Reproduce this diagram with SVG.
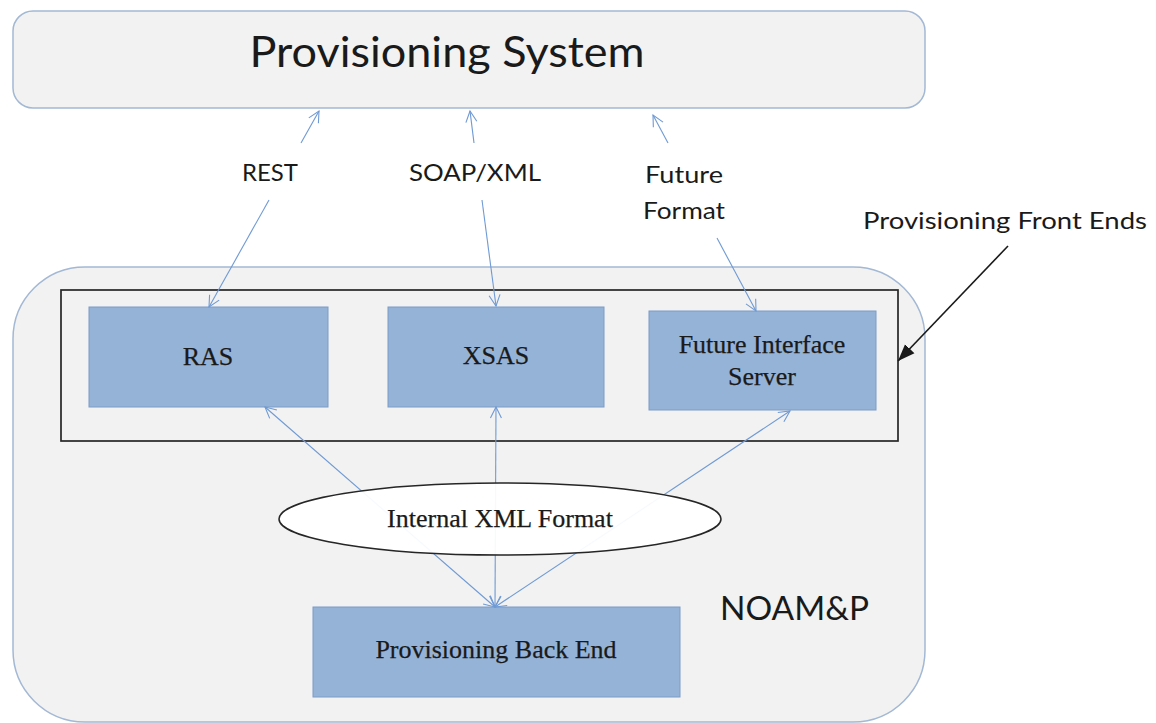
<svg xmlns="http://www.w3.org/2000/svg" width="1156" height="723" viewBox="0 0 1156 723">
  <style>
    .panel { fill: #f2f2f2; stroke: #a3b8d4; stroke-width: 1.5; }
    .frame { fill: none; stroke: #262626; stroke-width: 1.7; }
    .box { fill: #95b3d7; stroke: #7b9cc8; stroke-width: 1; }
    .link { fill: none; stroke: #6f9ad4; stroke-width: 1.1; }
    .pointer { fill: none; stroke: #1a1a1a; stroke-width: 1.6; }
    .sans { font-family: Lato, "Open Sans", "Liberation Sans", sans-serif; fill: #1a1a1a; }
    .serif { font-family: "Liberation Serif", "Times New Roman", serif; font-size: 26px; fill: #1a1a1a; stroke: #1a1a1a; stroke-width: 0.25; text-anchor: middle; }
    .lbl { font-size: 24px; text-anchor: middle; }
  </style>
  <defs>
    <marker id="open" markerUnits="userSpaceOnUse" markerWidth="14" markerHeight="14" viewBox="0 0 14 14" refX="12" refY="7" orient="auto-start-reverse">
      <path d="M1,1.5 L12,7 L1,12.5" fill="none" stroke="#6f9ad4" stroke-width="1.1"/>
    </marker>
    <marker id="solid" markerUnits="userSpaceOnUse" markerWidth="18" markerHeight="16" viewBox="0 0 18 16" refX="17" refY="8" orient="auto">
      <path d="M0,1.5 L17,8 L0,14.5 Z" fill="#1a1a1a"/>
    </marker>
  </defs>

  <!-- upstream provisioning system -->
  <g id="provisioning-system">
    <rect class="panel" x="13" y="11" width="912" height="97" rx="20"/>
    <text class="sans" x="447" y="67" font-size="42" text-anchor="middle" textLength="395" lengthAdjust="spacingAndGlyphs">Provisioning System</text>
  </g>

  <!-- NOAM&P container -->
  <g id="noamp">
    <rect class="panel" x="13" y="267" width="912" height="455" rx="72"/>
    <text class="sans" x="720" y="620" font-size="32" textLength="149" lengthAdjust="spacingAndGlyphs">NOAM&amp;P</text>
  </g>

  <!-- front end grouping frame -->
  <g id="front-ends">
    <rect class="frame" x="61" y="290" width="837" height="151"/>
  </g>

  <g id="ras">
    <rect class="box" x="89" y="307" width="239" height="100"/>
    <text class="serif" x="208" y="365">RAS</text>
  </g>

  <g id="xsas">
    <rect class="box" x="388" y="307" width="216" height="100"/>
    <text class="serif" x="496" y="364">XSAS</text>
  </g>

  <g id="future-interface-server">
    <rect class="box" x="649" y="311" width="227" height="99"/>
    <text class="serif" x="762" y="353">Future Interface</text>
    <text class="serif" x="762" y="385">Server</text>
  </g>

  <g id="back-end">
    <rect class="box" x="313" y="607" width="367" height="90"/>
    <text class="serif" x="496" y="658">Provisioning Back End</text>
  </g>

  <!-- connectors -->
  <g id="connectors">
    <!-- REST -->
    <path class="link" d="M301,143 L319,111" marker-end="url(#open)"/>
    <path class="link" d="M269,200 L209,307" marker-end="url(#open)"/>
    <!-- SOAP/XML -->
    <path class="link" d="M474,143 L470,111" marker-end="url(#open)"/>
    <path class="link" d="M482,200 L496,306" marker-end="url(#open)"/>
    <!-- Future format -->
    <path class="link" d="M668,143 L653,115" marker-end="url(#open)"/>
    <path class="link" d="M717,238 L756,311" marker-end="url(#open)"/>
    <!-- internal XML fan-out -->
    <path class="link" d="M495,607 L265,407" marker-start="url(#open)" marker-end="url(#open)"/>
    <path class="link" d="M495,607 L496,407" marker-start="url(#open)" marker-end="url(#open)"/>
    <path class="link" d="M495,607 L790,411" marker-start="url(#open)" marker-end="url(#open)"/>
    <!-- callout to front end frame -->
    <path class="pointer" d="M1008,246 L898,361" marker-end="url(#solid)"/>
  </g>

  <g id="internal-xml">
    <ellipse cx="500" cy="519" rx="221" ry="36" fill="#ffffff" fill-opacity="0.94" stroke="#262626" stroke-width="1.5"/>
    <text class="serif" x="500" y="527">Internal XML Format</text>
  </g>

  <!-- protocol labels -->
  <g id="labels">
    <text class="sans lbl" x="270" y="181" textLength="56" lengthAdjust="spacingAndGlyphs">REST</text>
    <text class="sans lbl" x="475" y="181" textLength="132" lengthAdjust="spacingAndGlyphs">SOAP/XML</text>
    <text class="sans lbl" x="684" y="183" textLength="78" lengthAdjust="spacingAndGlyphs">Future</text>
    <text class="sans lbl" x="684" y="219" textLength="82" lengthAdjust="spacingAndGlyphs">Format</text>
    <text class="sans" x="863" y="229" font-size="23" textLength="284" lengthAdjust="spacingAndGlyphs">Provisioning Front Ends</text>
  </g>
</svg>
